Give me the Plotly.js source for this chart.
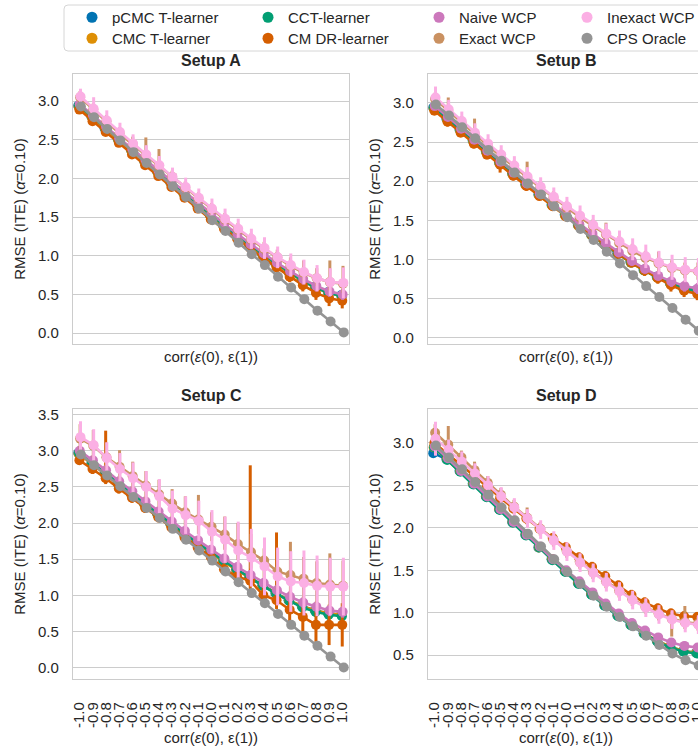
<!DOCTYPE html>
<html><head><meta charset="utf-8">
<script src="https://cdn.plot.ly/plotly-3.0.1.min.js"></script>
<style>html,body{margin:0;padding:0;overflow:hidden;background:#fff}</style>
</head><body>
<div id="chart" style="width:715px;height:746px"></div>
<script>
// ---- categories / tick labels ----
const RHO_LABELS = ['-1.0','-0.9','-0.8','-0.7','-0.6','-0.5','-0.4','-0.3','-0.2','-0.1','-0.0','0.1','0.2','0.3','0.4','0.5','0.6','0.7','0.8','0.9','1.0'];
const SERIES = ['pCMC T-learner','CMC T-learner','CCT-learner','CM DR-learner','Naive WCP','Exact WCP','Inexact WCP','CPS Oracle'];
const KEYS = ['pcmc','cmc','cct','cmdr','naive','exact','inexact','oracle'];
const COLORS = ['#0173b2','#de8f05','#029e73','#d55e00','#cc78bc','#ca9161','#fbafe4','#949494'];
const SETUPS = ['Setup A','Setup B','Setup C','Setup D'];

// ---- Setup A ----
const A_pcmc    = [2.94,2.80,2.65,2.51,2.37,2.23,2.09,1.95,1.81,1.67,1.53,1.40,1.27,1.14,1.02,0.90,0.79,0.69,0.60,0.53,0.49];
const A_cmc     = [2.93,2.79,2.65,2.50,2.36,2.22,2.08,1.94,1.80,1.66,1.52,1.39,1.26,1.13,1.01,0.89,0.78,0.68,0.59,0.52,0.48];
const A_cct     = [2.94,2.80,2.65,2.51,2.37,2.23,2.09,1.95,1.81,1.67,1.53,1.40,1.27,1.14,1.02,0.90,0.79,0.68,0.59,0.52,0.48];
const A_cmdr    = [2.89,2.74,2.60,2.46,2.31,2.17,2.03,1.89,1.75,1.61,1.47,1.35,1.22,1.10,0.97,0.85,0.73,0.62,0.52,0.45,0.42];
const A_naive   = [2.96,2.82,2.67,2.52,2.38,2.24,2.10,1.96,1.82,1.68,1.54,1.41,1.28,1.15,1.03,0.91,0.80,0.70,0.61,0.54,0.50];
const A_exact   = [3.05,2.89,2.74,2.58,2.44,2.30,2.16,2.02,1.88,1.74,1.60,1.47,1.34,1.21,1.09,0.98,0.87,0.78,0.71,0.66,0.64];
const A_inexact = [3.06,2.90,2.75,2.60,2.45,2.31,2.17,2.02,1.89,1.75,1.61,1.48,1.35,1.22,1.10,0.98,0.88,0.79,0.71,0.66,0.65];
const A_oracle  = [2.93,2.79,2.64,2.49,2.34,2.20,2.05,1.90,1.76,1.61,1.46,1.32,1.17,1.02,0.88,0.73,0.59,0.44,0.29,0.15,0.01];
const A_pcmc_err    = [0.04,0.04,0.04,0.04,0.04,0.04,0.04,0.04,0.04,0.04,0.04,0.04,0.04,0.04,0.05,0.05,0.05,0.05,0.06,0.06,0.06];
const A_cmc_err     = [0.04,0.04,0.04,0.04,0.04,0.04,0.04,0.04,0.04,0.04,0.04,0.04,0.04,0.04,0.05,0.05,0.05,0.05,0.06,0.06,0.06];
const A_cct_err     = [0.04,0.04,0.04,0.04,0.04,0.04,0.04,0.04,0.04,0.04,0.04,0.04,0.04,0.04,0.05,0.05,0.05,0.05,0.06,0.06,0.06];
const A_cmdr_err    = [0.05,0.05,0.05,0.05,0.05,0.05,0.05,0.05,0.04,0.04,0.04,0.04,0.04,0.05,0.05,0.06,0.07,0.08,0.09,0.10,0.10];
const A_naive_err   = [0.05,0.05,0.05,0.05,0.05,0.05,0.05,0.05,0.05,0.05,0.05,0.05,0.05,0.05,0.06,0.06,0.06,0.07,0.07,0.07,0.07];
const A_exact_err   = [0.08,0.07,0.07,0.07,0.07,0.07,0.07,0.07,0.07,0.07,0.07,0.07,0.07,0.07,0.08,0.08,0.09,0.10,0.10,0.11,0.12];
const A_exact_hi    = [0.08,0.08,0.08,0.08,0.10,0.23,0.22,0.08,0.08,0.08,0.08,0.08,0.08,0.08,0.09,0.10,0.11,0.16,0.13,0.28,0.23];
const A_inexact_err = [0.10,0.15,0.13,0.12,0.12,0.12,0.12,0.12,0.12,0.12,0.13,0.13,0.13,0.13,0.14,0.14,0.15,0.16,0.17,0.18,0.20];
const A_oracle_err  = [0.03,0.03,0.03,0.03,0.03,0.03,0.02,0.02,0.02,0.02,0.02,0.02,0.02,0.02,0.02,0.02,0.02,0.02,0.02,0.02,0.02];

// ---- Setup B ----
const B_pcmc    = [2.94,2.80,2.66,2.52,2.38,2.24,2.10,1.96,1.83,1.70,1.57,1.44,1.32,1.20,1.08,0.97,0.87,0.78,0.70,0.64,0.61];
const B_cmc     = [2.93,2.79,2.65,2.51,2.37,2.23,2.09,1.95,1.82,1.69,1.56,1.43,1.31,1.19,1.07,0.96,0.86,0.77,0.69,0.63,0.60];
const B_cct     = [2.94,2.80,2.66,2.52,2.38,2.24,2.10,1.96,1.83,1.70,1.57,1.44,1.31,1.19,1.07,0.96,0.86,0.77,0.69,0.63,0.60];
const B_cmdr    = [2.90,2.76,2.62,2.48,2.34,2.21,2.07,1.94,1.81,1.68,1.55,1.43,1.31,1.19,1.07,0.96,0.86,0.76,0.67,0.60,0.56];
const B_naive   = [2.96,2.82,2.67,2.53,2.39,2.25,2.11,1.97,1.84,1.71,1.58,1.45,1.33,1.21,1.09,0.98,0.88,0.79,0.72,0.66,0.63];
const B_exact   = [3.05,2.90,2.75,2.60,2.46,2.32,2.18,2.05,1.92,1.79,1.66,1.54,1.43,1.32,1.21,1.11,1.02,0.95,0.89,0.86,0.85];
const B_inexact = [3.07,2.92,2.77,2.62,2.48,2.34,2.20,2.06,1.93,1.80,1.68,1.56,1.44,1.33,1.23,1.13,1.04,0.96,0.90,0.87,0.85];
const B_oracle  = [2.98,2.84,2.69,2.55,2.40,2.26,2.11,1.97,1.83,1.68,1.54,1.39,1.25,1.10,0.95,0.80,0.66,0.52,0.38,0.23,0.09];
const B_pcmc_err    = [0.04,0.04,0.04,0.04,0.04,0.04,0.04,0.04,0.04,0.04,0.04,0.04,0.04,0.05,0.05,0.05,0.05,0.06,0.06,0.06,0.06];
const B_cmc_err     = [0.04,0.04,0.04,0.04,0.04,0.04,0.04,0.04,0.04,0.04,0.04,0.04,0.04,0.05,0.05,0.05,0.05,0.06,0.06,0.06,0.06];
const B_cct_err     = [0.04,0.04,0.04,0.04,0.04,0.04,0.04,0.04,0.04,0.04,0.04,0.04,0.04,0.05,0.05,0.05,0.05,0.06,0.06,0.06,0.06];
const B_cmdr_err    = [0.05,0.06,0.05,0.06,0.06,0.10,0.06,0.06,0.05,0.05,0.05,0.05,0.05,0.06,0.06,0.06,0.07,0.07,0.08,0.08,0.08];
const B_naive_err   = [0.05,0.05,0.05,0.05,0.05,0.05,0.05,0.05,0.05,0.05,0.05,0.05,0.05,0.05,0.06,0.06,0.06,0.06,0.07,0.07,0.07];
const B_exact_err   = [0.08,0.08,0.08,0.08,0.08,0.08,0.08,0.08,0.08,0.08,0.08,0.08,0.08,0.08,0.09,0.09,0.09,0.10,0.10,0.10,0.11];
const B_exact_hi    = [0.08,0.17,0.08,0.20,0.08,0.08,0.08,0.20,0.08,0.08,0.08,0.08,0.08,0.15,0.09,0.09,0.09,0.15,0.10,0.10,0.11];
const B_inexact_err = [0.14,0.12,0.12,0.12,0.12,0.12,0.12,0.12,0.12,0.12,0.12,0.13,0.13,0.13,0.14,0.14,0.15,0.15,0.16,0.16,0.17];
const B_oracle_err  = [0.03,0.03,0.03,0.03,0.03,0.03,0.02,0.02,0.02,0.02,0.02,0.02,0.02,0.02,0.02,0.02,0.02,0.02,0.02,0.02,0.02];

// ---- Setup C ----
const C_pcmc    = [2.97,2.83,2.69,2.55,2.41,2.27,2.13,1.99,1.86,1.73,1.60,1.48,1.36,1.25,1.14,1.03,0.93,0.85,0.79,0.75,0.73];
const C_cmc     = [2.96,2.82,2.68,2.54,2.40,2.26,2.12,1.98,1.85,1.72,1.59,1.47,1.35,1.24,1.13,1.03,0.93,0.85,0.79,0.75,0.73];
const C_cct     = [2.97,2.83,2.69,2.55,2.41,2.27,2.13,1.99,1.86,1.73,1.60,1.48,1.36,1.24,1.13,1.02,0.92,0.83,0.77,0.73,0.71];
const C_cmdr    = [2.87,2.75,2.62,2.48,2.35,2.21,2.08,1.94,1.80,1.66,1.53,1.36,1.26,1.20,1.00,0.93,0.80,0.70,0.59,0.59,0.59];
const C_naive   = [3.00,2.87,2.73,2.58,2.44,2.30,2.16,2.02,1.89,1.76,1.63,1.51,1.39,1.28,1.17,1.07,0.98,0.90,0.84,0.79,0.77];
const C_exact   = [3.17,3.07,2.91,2.78,2.65,2.52,2.40,2.27,2.15,2.05,1.95,1.84,1.71,1.60,1.48,1.33,1.28,1.23,1.17,1.15,1.13];
const C_inexact = [3.19,3.08,2.90,2.75,2.62,2.50,2.37,2.20,2.11,2.03,1.88,1.77,1.62,1.52,1.40,1.26,1.19,1.17,1.13,1.12,1.12];
const C_oracle  = [2.95,2.80,2.66,2.51,2.36,2.21,2.07,1.92,1.77,1.62,1.48,1.33,1.18,1.03,0.89,0.74,0.59,0.44,0.30,0.15,0.00];
const C_pcmc_err    = [0.05,0.05,0.05,0.05,0.05,0.05,0.05,0.05,0.05,0.05,0.05,0.05,0.05,0.06,0.06,0.06,0.06,0.06,0.07,0.07,0.07];
const C_cmc_err     = [0.05,0.05,0.05,0.05,0.05,0.05,0.05,0.05,0.05,0.05,0.05,0.05,0.05,0.06,0.06,0.06,0.06,0.06,0.07,0.07,0.07];
const C_cct_err     = [0.05,0.05,0.05,0.05,0.05,0.05,0.05,0.05,0.05,0.05,0.05,0.05,0.05,0.06,0.06,0.06,0.06,0.06,0.07,0.07,0.07];
const C_cmdr_err    = [0.06,0.07,0.08,0.07,0.07,0.07,0.07,0.07,0.07,0.07,0.08,0.08,0.08,0.14,0.12,0.12,0.16,0.22,0.25,0.28,0.30];
const C_cmdr_hi     = [0.06,0.07,0.66,0.07,0.07,0.07,0.07,0.07,0.07,0.07,0.08,0.08,0.08,1.60,0.12,0.94,0.20,0.25,0.25,0.28,0.30];
const C_naive_err   = [0.06,0.06,0.06,0.06,0.06,0.06,0.06,0.06,0.06,0.06,0.06,0.06,0.07,0.07,0.07,0.07,0.08,0.08,0.08,0.08,0.08];
const C_exact_err   = [0.15,0.16,0.16,0.17,0.17,0.18,0.18,0.19,0.19,0.20,0.20,0.21,0.22,0.23,0.24,0.25,0.26,0.27,0.28,0.29,0.30];
const C_exact_hi    = [0.20,0.22,0.20,0.23,0.20,0.20,0.20,0.20,0.22,0.34,0.20,0.25,0.29,0.25,0.17,0.30,0.46,0.30,0.30,0.43,0.35];
const C_inexact_err = [0.22,0.22,0.22,0.22,0.22,0.22,0.24,0.25,0.26,0.28,0.30,0.32,0.40,0.40,0.40,0.40,0.42,0.45,0.42,0.40,0.40];
const C_oracle_err  = [0.03,0.03,0.03,0.03,0.03,0.03,0.02,0.02,0.02,0.02,0.02,0.02,0.02,0.02,0.02,0.02,0.02,0.02,0.02,0.02,0.02];

// ---- Setup D ----
const D_pcmc    = [2.88,2.81,2.67,2.52,2.37,2.22,2.07,1.92,1.77,1.63,1.49,1.35,1.22,1.09,0.97,0.86,0.76,0.67,0.60,0.55,0.53];
const D_cmc     = [2.95,2.81,2.67,2.52,2.37,2.22,2.07,1.92,1.77,1.63,1.49,1.35,1.22,1.09,0.97,0.86,0.76,0.67,0.60,0.55,0.53];
const D_cct     = [2.95,2.80,2.66,2.51,2.36,2.21,2.06,1.91,1.77,1.62,1.48,1.34,1.21,1.08,0.96,0.85,0.75,0.66,0.59,0.54,0.52];
const D_cmdr    = [3.00,2.87,2.74,2.61,2.48,2.35,2.23,2.11,1.99,1.88,1.77,1.65,1.54,1.43,1.32,1.21,1.12,1.05,0.99,0.96,0.95];
const D_naive   = [2.96,2.82,2.67,2.52,2.37,2.22,2.07,1.92,1.78,1.63,1.50,1.37,1.24,1.11,0.99,0.88,0.79,0.71,0.65,0.61,0.59];
const D_exact   = [3.12,2.98,2.83,2.68,2.53,2.39,2.25,2.12,1.99,1.86,1.73,1.60,1.48,1.37,1.26,1.16,1.07,0.99,0.93,0.89,0.87];
const D_inexact = [3.05,2.92,2.78,2.64,2.50,2.37,2.24,2.11,1.98,1.85,1.72,1.59,1.47,1.36,1.25,1.15,1.06,0.98,0.92,0.88,0.86];
const D_oracle  = [2.97,2.83,2.69,2.54,2.39,2.24,2.09,1.93,1.78,1.63,1.48,1.34,1.20,1.07,0.95,0.84,0.73,0.62,0.52,0.44,0.38];
const D_pcmc_err    = [0.04,0.04,0.04,0.04,0.04,0.04,0.04,0.04,0.04,0.04,0.04,0.04,0.04,0.04,0.04,0.04,0.04,0.04,0.04,0.04,0.04];
const D_cmc_err     = [0.04,0.04,0.04,0.04,0.04,0.04,0.04,0.04,0.04,0.04,0.04,0.04,0.04,0.04,0.04,0.04,0.04,0.04,0.04,0.04,0.04];
const D_cct_err     = [0.04,0.04,0.04,0.04,0.04,0.04,0.04,0.04,0.04,0.04,0.04,0.04,0.04,0.04,0.04,0.04,0.04,0.04,0.04,0.04,0.04];
const D_cmdr_err    = [0.06,0.06,0.06,0.06,0.06,0.06,0.06,0.06,0.06,0.06,0.06,0.06,0.06,0.06,0.06,0.06,0.06,0.06,0.06,0.06,0.06];
const D_naive_err   = [0.05,0.05,0.05,0.05,0.05,0.05,0.05,0.05,0.05,0.05,0.05,0.05,0.05,0.05,0.05,0.05,0.05,0.05,0.05,0.05,0.05];
const D_exact_err   = [0.08,0.08,0.08,0.08,0.08,0.08,0.08,0.08,0.08,0.08,0.08,0.08,0.08,0.08,0.08,0.08,0.08,0.08,0.21,0.08,0.08];
const D_exact_hi    = [0.10,0.22,0.08,0.10,0.08,0.08,0.08,0.12,0.08,0.08,0.08,0.08,0.08,0.08,0.08,0.08,0.08,0.08,0.08,0.19,0.08];
const D_inexact_err = [0.20,0.12,0.12,0.12,0.11,0.11,0.11,0.11,0.11,0.11,0.11,0.11,0.11,0.11,0.11,0.11,0.11,0.11,0.11,0.11,0.11];
const D_oracle_err  = [0.03,0.03,0.03,0.03,0.03,0.03,0.02,0.02,0.02,0.02,0.02,0.02,0.02,0.02,0.02,0.02,0.02,0.02,0.02,0.02,0.02];

// ---- lookup tables built from the arrays above ----
const VALUES = {
  A: {pcmc:A_pcmc, cmc:A_cmc, cct:A_cct, cmdr:A_cmdr, naive:A_naive, exact:A_exact, inexact:A_inexact, oracle:A_oracle},
  B: {pcmc:B_pcmc, cmc:B_cmc, cct:B_cct, cmdr:B_cmdr, naive:B_naive, exact:B_exact, inexact:B_inexact, oracle:B_oracle},
  C: {pcmc:C_pcmc, cmc:C_cmc, cct:C_cct, cmdr:C_cmdr, naive:C_naive, exact:C_exact, inexact:C_inexact, oracle:C_oracle},
  D: {pcmc:D_pcmc, cmc:D_cmc, cct:D_cct, cmdr:D_cmdr, naive:D_naive, exact:D_exact, inexact:D_inexact, oracle:D_oracle}
};
const ERRS = {
  A: {pcmc:A_pcmc_err, cmc:A_cmc_err, cct:A_cct_err, cmdr:A_cmdr_err, naive:A_naive_err, exact:A_exact_err, inexact:A_inexact_err, oracle:A_oracle_err},
  B: {pcmc:B_pcmc_err, cmc:B_cmc_err, cct:B_cct_err, cmdr:B_cmdr_err, naive:B_naive_err, exact:B_exact_err, inexact:B_inexact_err, oracle:B_oracle_err},
  C: {pcmc:C_pcmc_err, cmc:C_cmc_err, cct:C_cct_err, cmdr:C_cmdr_err, naive:C_naive_err, exact:C_exact_err, inexact:C_inexact_err, oracle:C_oracle_err},
  D: {pcmc:D_pcmc_err, cmc:D_cmc_err, cct:D_cct_err, cmdr:D_cmdr_err, naive:D_naive_err, exact:D_exact_err, inexact:D_inexact_err, oracle:D_oracle_err}
};
const ERRS_HI = {
  A: {exact:A_exact_hi}, B: {exact:B_exact_hi}, C: {exact:C_exact_hi, cmdr:C_cmdr_hi}, D: {exact:D_exact_hi}
};

// ---- geometry ----
const W = 715, H = 746;
const px = x => x / W;
const py = y => 1 - y / H;
const FONT = 'Liberation Sans, Arial, sans-serif';
const TXT = '#262626';
const GRID = '#cccccc';
const LETTERS = ['A','B','C','D'];
const XDOM = [[px(73), px(349)], [px(428), px(704)]];
const YDOM = [[py(344), py(74)], [py(679), py(409)]];
const YRANGES = [[-0.14, 3.35], [-0.08, 3.37], [-0.16, 3.58], [0.22, 3.40]];
const IDX = RHO_LABELS.map((_, i) => i);
const NH = SERIES.length;
const DODGE = 0.2;

const traces = [];
LETTERS.forEach((L, p) => {
  const ax = p === 0 ? '' : String(p + 1);
  KEYS.forEach((k, h) => {
    const off = -DODGE / 2 + h * DODGE / (NH - 1);
    const lo = ERRS[L][k];
    const hi = (ERRS_HI[L] && ERRS_HI[L][k]) ? ERRS_HI[L][k] : lo;
    traces.push({
      type: 'scatter', mode: 'lines+markers',
      x: IDX.map(i => i + off), y: VALUES[L][k],
      xaxis: 'x' + ax, yaxis: 'y' + ax,
      name: SERIES[h], showlegend: false,
      line: {color: COLORS[h], width: 2.6},
      marker: {color: COLORS[h], size: 10, line: {width: 0}},
      error_y: {type: 'data', symmetric: false, array: hi, arrayminus: lo,
                color: COLORS[h], thickness: 3, width: 0},
      hoverinfo: 'x+y+name'
    });
  });
});
// legend entries (markers only): 4 columns x 2 rows, one legend box per entry
const LEG_COL = [0, 0, 1, 1, 2, 2, 3, 3];
const LEG_ROW = [0, 1, 0, 1, 0, 1, 0, 1];
SERIES.forEach((s, h) => {
  traces.push({
    type: 'scatter', mode: 'markers', x: [null], y: [null],
    name: s, legend: h === 0 ? 'legend' : 'legend' + (h + 1), showlegend: true,
    marker: {color: COLORS[h], size: 11}, hoverinfo: 'skip'
  });
});

const layout = {
  width: W, height: H,
  margin: {l: 0, r: 0, t: 0, b: 0},
  paper_bgcolor: '#ffffff', plot_bgcolor: '#ffffff',
  font: {family: FONT, size: 15, color: TXT},
  showlegend: true,
  annotations: [], shapes: []
};

LETTERS.forEach((L, p) => {
  const ax = p === 0 ? '' : String(p + 1);
  const col = p % 2, row = Math.floor(p / 2);
  layout['xaxis' + ax] = {
    domain: XDOM[col], anchor: 'y' + ax,
    range: [-0.5, RHO_LABELS.length - 0.5],
    tickmode: 'array', tickvals: IDX, ticktext: RHO_LABELS,
    tickangle: -90, showticklabels: row === 1,
    ticks: row === 1 ? 'outside' : '', ticklen: row === 1 ? 16 : 0, tickcolor: 'rgba(0,0,0,0)',
    tickfont: {size: 15, color: TXT, family: FONT},
    showgrid: false, zeroline: false,
    showline: true, mirror: true, linecolor: GRID, linewidth: 1.25,
    automargin: false, fixedrange: true,
    title: {text: 'corr(<i>ε</i>(0), ε(1))', font: {size: 15, color: TXT, family: FONT},
            standoff: row === 1 ? 5 : 7}
  };
  layout['yaxis' + ax] = {
    domain: YDOM[row], anchor: 'x' + ax,
    range: YRANGES[p], tick0: 0, dtick: 0.5, tickformat: '.1f',
    ticks: 'outside', ticklen: 10, tickcolor: 'rgba(0,0,0,0)',
    tickfont: {size: 15, color: TXT, family: FONT},
    showgrid: true, gridcolor: GRID, gridwidth: 1.1, zeroline: false,
    showline: true, mirror: true, linecolor: GRID, linewidth: 1.25,
    automargin: false, fixedrange: true,
    title: {text: 'RMSE (ITE) (<i>α</i>=0.10)', font: {size: 15, color: TXT, family: FONT}, standoff: 8}
  };
  layout.annotations.push({
    text: SETUPS[p], xref: 'paper', yref: 'paper',
    x: (XDOM[col][0] + XDOM[col][1]) / 2, y: row === 0 ? py(60) : py(395),
    xanchor: 'center', yanchor: 'middle', showarrow: false,
    font: {size: 16, color: TXT, family: FONT, weight: 'bold'}
  });
});

const LEG_X = [72, 248, 419, 567];
const LEG_Y = [1, 22];
SERIES.forEach((s, h) => {
  const lg = h === 0 ? 'legend' : 'legend' + (h + 1);
  layout[lg] = {
    x: px(LEG_X[LEG_COL[h]]), y: py(LEG_Y[LEG_ROW[h]]), xanchor: 'left', yanchor: 'top',
    orientation: 'v', bgcolor: 'rgba(0,0,0,0)', borderwidth: 0,
    font: {size: 15, color: TXT, family: FONT}, itemclick: false, itemdoubleclick: false
  };
});

// legend frame (rounded box)
(function () {
  const x0 = 64, y0 = 5, x1 = 708, y1 = 51, r = 4;
  const P = (x, y) => px(x) + ',' + py(y);
  const path = 'M' + P(x0 + r, y0) + ' L' + P(x1 - r, y0) + ' Q' + P(x1, y0) + ' ' + P(x1, y0 + r) +
    ' L' + P(x1, y1 - r) + ' Q' + P(x1, y1) + ' ' + P(x1 - r, y1) +
    ' L' + P(x0 + r, y1) + ' Q' + P(x0, y1) + ' ' + P(x0, y1 - r) +
    ' L' + P(x0, y0 + r) + ' Q' + P(x0, y0) + ' ' + P(x0 + r, y0) + ' Z';
  layout.shapes.push({type: 'path', xref: 'paper', yref: 'paper', path: path,
    line: {color: '#d6d6d6', width: 1}, fillcolor: 'rgba(0,0,0,0)', layer: 'below'});
})();

Plotly.newPlot('chart', traces, layout, {displayModeBar: false, responsive: false});
</script>
</body></html>
